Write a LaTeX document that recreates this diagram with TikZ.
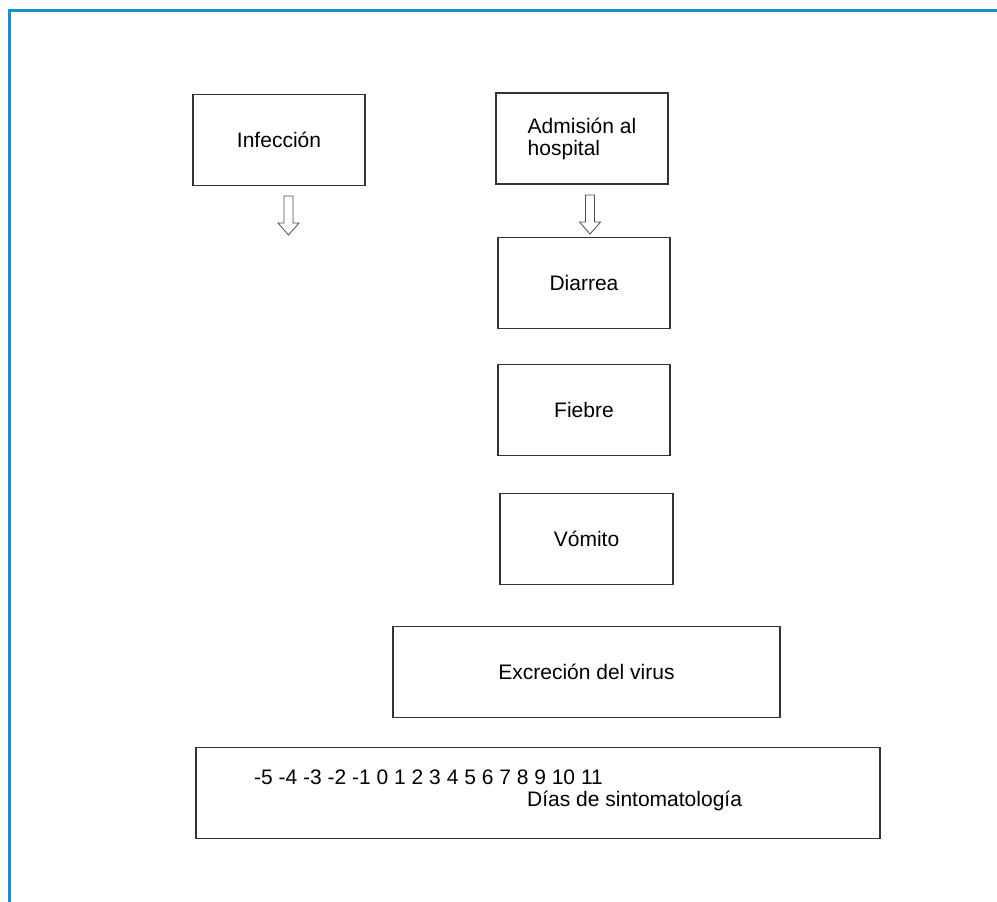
\documentclass[tikz,border=0pt]{standalone}
\usepackage{fontspec}
\setmainfont{Liberation Sans}
\definecolor{azulmarco}{HTML}{1A8FCF}
\definecolor{grisborde}{HTML}{333333}
\begin{document}
\begin{tikzpicture}[x=1pt,y=-1pt,
	caja/.style={draw=grisborde, line width=1.4pt, minimum width=172pt, minimum height=91pt, inner sep=0pt, font=\fontsize{21}{22}\selectfont},
	texto/.style={inner sep=0pt, anchor=west, font=\fontsize{21}{22}\selectfont},
	flecha/.style={draw=black!70, line width=0.8pt, fill=white}]
	\def\sa{4.5}  % semiancho del cuerpo
	\def\la{27}   % largo del cuerpo
	\def\sp{10.5} % semiancho de la punta
	\def\lp{12}   % largo de la punta
	
	\useasboundingbox (0,0) rectangle (997,902);
	\draw[azulmarco, line width=3pt] (997,10) -- (9,10) -- (9,902); % Marco
	
	% Cajas
	\node[caja] (inf) at (279,140) {Infecci\'on};
	\node[caja, align=left] (adm) at (582,138.5) {Admisi\'on al\\hospital};
	\node[caja] (dia) at (584,283) {Diarrea};
	\node[caja] (fie) at (584,410) {Fiebre};
	\node[caja, minimum width=173pt] (vom) at (586.5,539) {V\'omito};
	\node[caja, minimum width=387pt] (exc) at (586.5,672) {Excreci\'on del virus};
	\node[caja, minimum width=684pt] (dias) at (538,793) {};
	
	% Eje de dias
	\node[texto] (num) at (254,777) {-5 -4 -3 -2 -1 0 1 2 3 4 5 6 7 8 9 10 11};
	\node[texto] (sint) at (527,801) {D\'ias de sintomatolog\'ia};
	
	% Flechas huecas
	\coordinate (f1) at (288.5,196);
	\coordinate (f2) at (590,195);
	\foreach \f in {f1,f2} {
		\draw[flecha] ([xshift=-\sa]\f) -- ++(0,\la) -- ++(\sa-\sp,0) -- ++(\sp,\lp) -- ++(\sp,-\lp) -- ++(\sa-\sp,0) -- ++(0,-\la) -- cycle;
	}
\end{tikzpicture}
\end{document}
